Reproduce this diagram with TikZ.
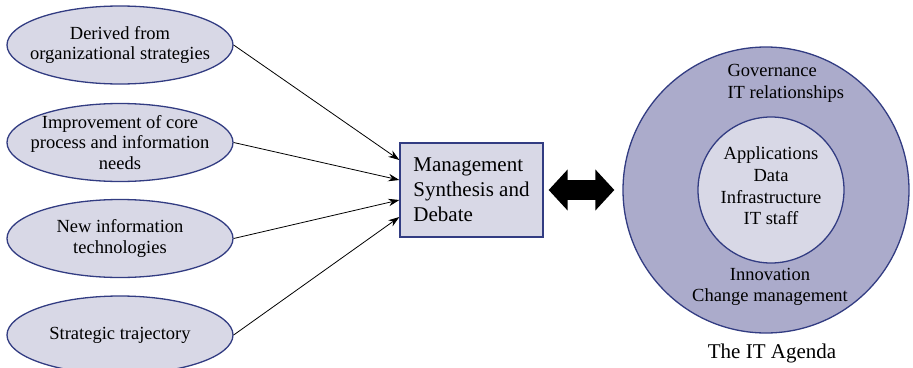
\documentclass[tikz,border=0pt]{standalone}
\usepackage{fontspec}
\setmainfont{Liberation Serif}
\usepackage{xcolor}
\usepackage{tikz}
\usetikzlibrary{arrows.meta, shapes.geometric}

\definecolor{edgeblue}{HTML}{323C82}
\definecolor{paleblue}{HTML}{D8D8E6}
\definecolor{midblue}{HTML}{ABABCB}

\begin{document}
\begin{tikzpicture}[x=1pt, y=-1pt,
    source/.style={ellipse, draw=edgeblue, line width=1.3pt, fill=paleblue,
      minimum width=226pt, minimum height=78pt, inner xsep=-90pt, inner ysep=-40pt,
      align=center, font=\fontsize{18.5}{20.5}\selectfont},
    feed/.style={-{Stealth[length=11pt, width=7.5pt]}, line width=0.8pt},
    ring/.style={circle, draw=edgeblue, line width=1.3pt, inner sep=0pt},
    txt/.style={align=center, font=\fontsize{18.5}{21.7}\selectfont}]
         \clip (0,0) rectangle (913,367);
         % Sources
         \node [source] (derived) at (120, 45)    {Derived from\\organizational strategies};
         \node [source] (improve) at (120, 142.5) {Improvement of core\\process and information\\needs};
         \node [source] (newtech) at (120, 238.5) {New information\\technologies};
         \node [source] (traj)    at (120, 335)   {Strategic trajectory};
         % Synthesis box
         \node [draw=edgeblue, line width=1.3pt, fill=paleblue, minimum width=143pt,
                minimum height=94pt, align=left, font=\fontsize{21}{25}\selectfont]
               (mgmt) at (471.5, 190) {Management\\Synthesis and\\Debate};
         \draw [feed] (derived.east) -- ([yshift=30pt]mgmt.west);
         \draw [feed] (improve.east) -- ([yshift=10pt]mgmt.west);
         \draw [feed] (newtech.east) -- ([yshift=-10pt]mgmt.west);
         \draw [feed] (traj.east)    -- ([yshift=-27pt]mgmt.west);
         % IT agenda
         \node [ring, fill=midblue, minimum size=286pt] (agenda) at (766, 190) {};
         \node [ring, fill=paleblue, minimum size=146pt] (core) at (771, 190) {};
         \node [txt, align=left, anchor=west] (outer) at (724, 83.5) {Governance\\IT relationships};
         \node [txt] (inner) at (771, 186) {Applications\\Data\\Infrastructure\\IT staff};
         \node [txt] (change) at (770, 287) {Innovation\\Change management};
         \node [font=\fontsize{21}{25}\selectfont] (title) at (772, 353) {The IT Agenda};
         \draw [line width=20pt, {Triangle[length=19pt, width=40pt]}-{Triangle[length=19pt, width=40pt]}]
               ([xshift=5pt]mgmt.east) -- ([xshift=-8pt]agenda.west);
     \end{tikzpicture}
\end{document}
